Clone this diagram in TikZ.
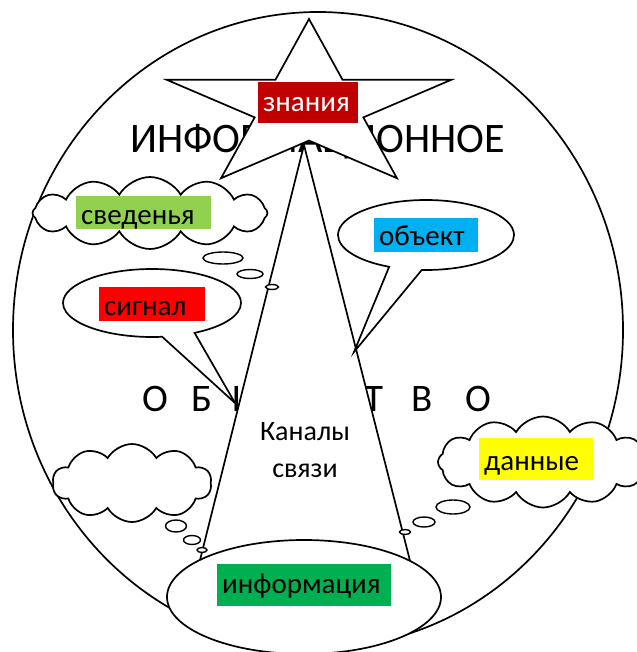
\documentclass[tikz,border=0pt]{standalone}
\usepackage{fontspec}
\setmainfont{Carlito}
\usetikzlibrary{shapes.geometric,shapes.symbols,shapes.callouts}

\definecolor{znaniyared}{HTML}{C00000}
\definecolor{svedgreen}{HTML}{92D050}
\definecolor{obblue}{HTML}{00B0F0}
\definecolor{signalred}{HTML}{FF0000}
\definecolor{dannyellow}{HTML}{FFFF00}
\definecolor{infgreen}{HTML}{00B050}

\tikzset{
  outline/.style={draw=black,line width=1.7pt},
  whiteshape/.style={outline,fill=white,inner sep=0pt},
  tag/.style={anchor=north west,inner xsep=5pt,inner ysep=0pt,align=left,font=\fontsize{29}{32}\selectfont},
  thought/.style={ellipse,draw=black,line width=1.4pt,fill=white,inner sep=0pt},
  puffy/.style={cloud,cloud puffs=12,cloud puff arc=120,whiteshape}
}

\begin{document}
\begin{tikzpicture}[x=1pt,y=-1pt]
\useasboundingbox (0,0) rectangle (636,652);
\draw[outline] (318,330) ellipse [x radius=305, y radius=318];

\node[anchor=base,inner sep=0pt,font=\fontsize{42}{44}\selectfont] (infword) at (317.5,153) {ИНФОРМАЦИОННОЕ};
\foreach \px/\ch [count=\i] in {155/О,202/Б,250/Щ,295/Е,335/С,374/Т,422/В,478/О}
  \node[anchor=base,inner sep=0pt,font=\fontsize{39}{42}\selectfont] (ob\i) at (\px,411) {\ch};

\coordinate (apex) at (304,145);
\coordinate (baseL) at (190,600);
\coordinate (baseR) at (420,600);
\draw[whiteshape] (apex) -- (baseL) -- (baseR) -- cycle;

\begin{scope}[shift={(309,107)},xscale=1.7]
  \draw[whiteshape] (-90:88) \foreach \k in {0,...,4} { -- (-54+72*\k:33.6) -- (-18+72*\k:88) } -- cycle;
\end{scope}

\coordinate (obtip) at (354,352);
\node[ellipse callout,whiteshape,minimum width=176pt,minimum height=70pt,
  callout absolute pointer={(obtip)},callout pointer arc=22] (obcall) at (426,235) {};
\coordinate (sigtip) at (235,403);
\node[ellipse callout,whiteshape,minimum width=178pt,minimum height=68pt,
  callout absolute pointer={(sigtip)},callout pointer arc=22] (sigcall) at (152,303) {};

\node[puffy,minimum width=235pt,minimum height=72pt,aspect=3.3] (svcloud) at (150,213) {};
\node[puffy,cloud puffs=10,minimum width=159pt,minimum height=78pt,aspect=2] (blankcloud) at (132,483) {};
\node[puffy,minimum width=210pt,minimum height=91pt,aspect=2.3] (dncloud) at (543,462) {};

\node[thought,minimum width=40pt,minimum height=12pt] (svb1) at (223,258) {};
\node[thought,minimum width=26pt,minimum height=9pt] (svb2) at (250,274) {};
\node[thought,minimum width=13pt,minimum height=5pt] (svb3) at (272,287) {};
\node[thought,minimum width=21pt,minimum height=12pt] (blb1) at (176,526) {};
\node[thought,minimum width=17pt,minimum height=9pt] (blb2) at (192,540) {};
\node[thought,minimum width=10pt,minimum height=5pt] (blb3) at (202,550) {};
\node[thought,minimum width=34pt,minimum height=14pt] (dnb1) at (453,507) {};
\node[thought,minimum width=22pt,minimum height=10pt] (dnb2) at (424,522) {};
\node[thought,minimum width=11pt,minimum height=5pt] (dnb3) at (405,532) {};

\node[ellipse,whiteshape,minimum width=274pt,minimum height=114pt] (infell) at (304,597) {};

\node[tag,fill=znaniyared,text=white,text width=90pt,text height=29pt,text depth=12pt] (znaniya) at (258,82) {знания};
\node[tag,fill=svedgreen,text width=125pt,text height=28pt,text depth=5pt] (svedenya) at (76,196) {сведенья};
\node[tag,fill=obblue,text width=94pt,text height=27pt,text depth=7pt] (obekt) at (374,218) {объект};
\node[tag,fill=signalred,text width=96pt,text height=28pt,text depth=6pt] (signal) at (99,287) {сигнал};
\node[tag,fill=dannyellow,text width=104pt,text height=32pt,text depth=10pt] (dannye) at (479,438) {данные};
\node[tag,fill=infgreen,text width=164pt,text height=29pt,text depth=13pt] (informaciya) at (217,564) {информация};

\node[anchor=base,inner sep=0pt,font=\fontsize{28}{32}\selectfont] (kanaly) at (305,440) {Каналы};
\node[anchor=base,inner sep=0pt,font=\fontsize{28}{32}\selectfont] (svyazi) at (305,477) {связи};
\end{tikzpicture}
\end{document}
